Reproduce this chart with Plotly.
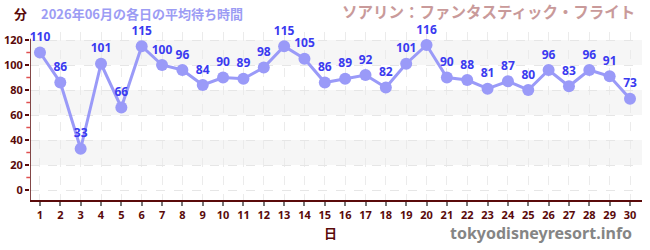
import plotly.graph_objects as go

days = list(range(1, 31))
waits = [110, 86, 33, 101, 66, 115, 100, 96, 84, 90, 89, 98, 115, 105, 86,
         89, 92, 82, 101, 116, 90, 88, 81, 87, 80, 96, 83, 96, 91, 73]
y_ticks = [0, 20, 40, 60, 80, 100, 120]

FONT = "Noto Sans CJK JP"
NUMF = "Noto Sans"
AXC = "#5a0a0a"

fig = go.Figure()
fig.add_trace(go.Scatter(
    x=days, y=waits, mode="lines+markers+text",
    line=dict(color="#9a9af8", width=3),
    marker=dict(size=12, color="#9a9af8"),
    text=[str(v) for v in waits], textposition="top center",
    textfont=dict(family=NUMF, size=12, color="#3a3af0", weight="bold"),
    cliponaxis=False, hoverinfo="skip", showlegend=False,
))

shapes = []
for lo, hi in [(20, 40), (60, 80), (100, 120)]:
    shapes.append(dict(type="rect", xref="paper", yref="y", x0=0, x1=1, y0=lo, y1=hi,
                       fillcolor="#f6f6f6", line_width=0, layer="below"))
shapes.append(dict(type="line", xref="x", yref="y", x0=0.51, x1=0.51, y0=-8, y1=121,
                   line=dict(color=AXC, width=1.5)))
for m in [10, 30, 50, 70, 90, 110]:
    shapes.append(dict(type="line", xref="paper", yref="y", x0=-0.006, x1=0, y0=m, y1=m,
                       line=dict(color="#e05050", width=1.5)))
fig.update_layout(shapes=shapes)

fig.update_xaxes(range=[0.51, 30.59], tickmode="array", tickvals=days,
                 ticktext=[str(d) for d in days], automargin=False,
                 tickfont=dict(family=NUMF, size=11, color=AXC, weight="bold"),
                 ticks="outside", ticklen=4, tickcolor="#777", tickwidth=1.5,
                 showline=True, linecolor=AXC, linewidth=1.5,
                 showgrid=True, gridcolor="#ebebeb", griddash="dash", gridwidth=1,
                 zeroline=False)
fig.update_yaxes(range=[-8, 126.4], tickmode="array", tickvals=y_ticks, automargin=False,
                 tickfont=dict(family=NUMF, size=11, color=AXC, weight="bold"),
                 ticks="outside", ticklen=4, tickcolor=AXC, tickwidth=1.5,
                 showline=False, showgrid=True, gridcolor="#e6e6e6", griddash="dash",
                 zeroline=False)

def px(xp):
    return (xp - 30) / 612

def py(yp):
    return (200 - yp) / 168

fig.add_annotation(text="分", xref="paper", yref="paper", x=px(20), y=py(13.5),
                   xanchor="center", yanchor="middle", showarrow=False,
                   font=dict(family=FONT, size=13, color=AXC, weight="bold"))
fig.add_annotation(text="2026年06月の各日の平均待ち時間", xref="paper", yref="paper",
                   x=px(39), y=py(13.5), xanchor="left", yanchor="middle", showarrow=False,
                   font=dict(family=FONT, size=13, color="#9c9cf4", weight="bold"))
fig.add_annotation(text="ソアリン：ファンタスティック・フライト", xref="paper", yref="paper",
                   x=px(637), y=py(11), xanchor="right", yanchor="middle", showarrow=False,
                   font=dict(family=FONT, size=15.5, color="#c99a9a", weight="bold"))
fig.add_annotation(text="日", xref="paper", yref="paper", x=px(330), y=py(232),
                   xanchor="center", yanchor="middle", showarrow=False,
                   font=dict(family=FONT, size=13, color=AXC, weight="bold"))
fig.add_annotation(text="tokyodisneyresort.info", xref="paper", yref="paper",
                   x=px(634), y=py(233), xanchor="right", yanchor="middle", showarrow=False,
                   font=dict(family=NUMF, size=16, color="#858585", weight="bold"))

fig.update_layout(width=650, height=250, margin=dict(l=30, r=8, t=32, b=50),
                  paper_bgcolor="white", plot_bgcolor="white")
fig.write_html("out.html")
